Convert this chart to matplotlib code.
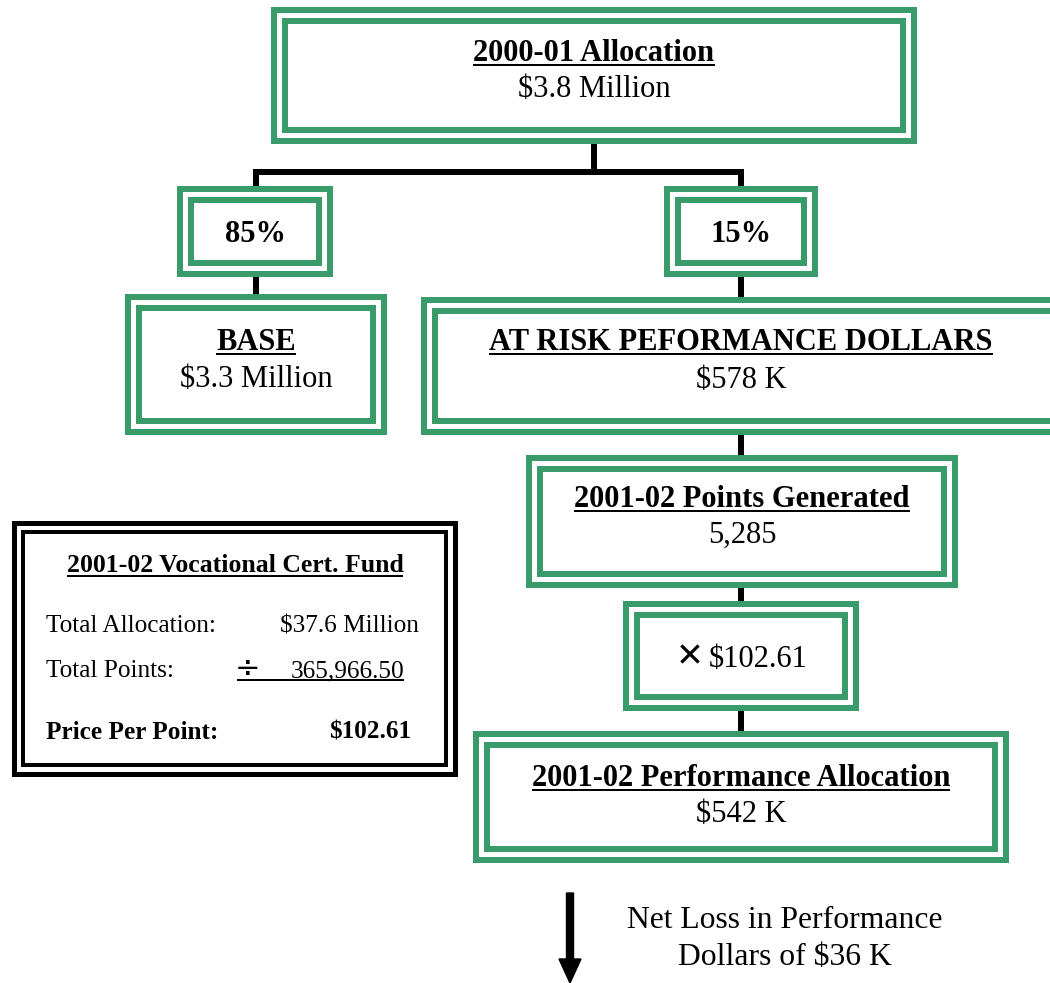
import matplotlib
matplotlib.use('Agg')
import matplotlib.pyplot as plt
from matplotlib.patches import Rectangle, Polygon, FancyArrow

plt.rcParams['text.parse_math'] = False
SERIF = ['Liberation Serif', 'DejaVu Serif']
GREEN = '#3A9B6A'

# chart text
box_titles = ["2000-01 Allocation", "85%", "15%", "BASE",
              "AT RISK PEFORMANCE DOLLARS", "2001-02 Points Generated",
              "", "2001-02 Performance Allocation"]
box_values = ["$3.8 Million", "", "", "$3.3 Million", "$578 K", "5,285",
              "$102.61", "$542 K"]
fund_title = "2001-02 Vocational Cert. Fund"
fund_labels = ["Total Allocation:", "Total Points:", "Price Per Point:"]
fund_values = ["$37.6 Million", "365,966.50", "$102.61"]
note_lines = ["Net Loss in Performance", "Dollars of $36 K"]

# layout (pixel coords): outer box x0, y0, x1, y1
box_pos = [(274, 10, 914, 141), (180, 189, 330, 274), (667, 189, 815, 274),
           (128, 297, 384, 432), (424, 300, 1066, 432), (529, 458, 955, 585),
           (626, 604, 856, 708), (476, 734, 1006, 860)]
title_base = [61, 242, 242, 350, 350, 507, 0, 786]
value_base = [97, 0, 0, 387, 388, 543, 667, 822]


def px(v):
    return v * 0.72


def main():
    fig = plt.figure(figsize=(10.5, 9.83), dpi=100)
    ax = fig.add_axes([0, 0, 1, 1])
    ax.set_xlim(0, 1050)
    ax.set_ylim(983, 0)
    ax.axis('off')
    renderer = fig.canvas.get_renderer()
    inv = ax.transData.inverted()

    def underline(t, y, lw=2):
        bb = t.get_window_extent(renderer)
        (xa, _), (xb, _) = inv.transform([[bb.x0, bb.y0], [bb.x1, bb.y1]])
        ax.plot([xa, xb], [y, y], color='black', lw=px(lw),
                solid_capstyle='butt', zorder=4)

    def frame(x0, y0, x1, y1, color, lw):
        # start mid left edge so a clipped path has no visible break
        ym = (y0 + y1) / 2
        pts = [(x0, ym), (x0, y0), (x1, y0), (x1, y1), (x0, y1)]
        ax.add_patch(Polygon(pts, closed=True, fill=False, ec=color,
                             lw=px(lw), joinstyle='miter', zorder=3))

    def double_box(x0, y0, x1, y1, color, lw_out, lw_in, gap):
        frame(x0, y0, x1, y1, color, lw_out)
        frame(x0 + gap, y0 + gap, x1 - gap, y1 - gap, color, lw_in)

    # connectors
    conn = [((594, 141), (594, 172)), ((253, 172), (744, 172)),
            ((256, 172), (256, 189)), ((741, 172), (741, 189)),
            ((256, 274), (256, 297)), ((741, 274), (741, 300)),
            ((741, 432), (741, 458)), ((741, 585), (741, 604)),
            ((741, 708), (741, 734))]
    for (xa, ya), (xb, yb) in conn:
        ax.plot([xa, xb], [ya, yb], color='black', lw=px(6),
                solid_capstyle='butt', zorder=1)

    for i, (x0, y0, x1, y1) in enumerate(box_pos):
        ax.add_patch(Rectangle((x0, y0), x1 - x0, y1 - y0, fc='white',
                               ec='none', zorder=2))
        double_box(x0, y0, x1, y1, GREEN, 6, 6, 11)
        cx = (x0 + x1) / 2 if i != 4 else 741
        if box_titles[i]:
            t = ax.text(cx, title_base[i], box_titles[i], ha='center',
                        va='baseline', family=SERIF, weight='bold',
                        fontsize=22, zorder=4)
            if '%' not in box_titles[i]:
                underline(t, title_base[i] + 4)
        if i == 6:
            ax.text(690, value_base[i] - 1, "\u2715", ha='center',
                    va='baseline', family='DejaVu Sans', fontsize=24,
                    weight='bold', zorder=4)
            ax.text(709, value_base[i], box_values[i], ha='left',
                    va='baseline', family=SERIF, fontsize=22, zorder=4)
        elif box_values[i]:
            ax.text(cx, value_base[i], box_values[i], ha='center',
                    va='baseline', family=SERIF, fontsize=22, zorder=4)

    # fund box
    double_box(14, 523, 455, 774, 'black', 5, 4, 9)
    t = ax.text(235, 572, fund_title, ha='center', va='baseline', family=SERIF,
                weight='bold', fontsize=18.5)
    underline(t, 576)
    rows = [632, 677, 739]
    for k, (lab, val) in enumerate(zip(fund_labels, fund_values)):
        bold = 'bold' if k == 2 else 'normal'
        ax.text(46, rows[k], lab, ha='left', va='baseline', family=SERIF,
                fontsize=18.2, weight=bold)
        xr = [419, 404, 411][k]
        ax.text(xr, rows[k], val, ha='right', va='baseline', family=SERIF,
                fontsize=18.2, weight=bold)
    ax.text(248, 677, "\u00f7", ha='center', va='baseline', family='DejaVu Sans',
            fontsize=22)
    ax.plot([237, 404], [680, 680], color='black', lw=px(2), solid_capstyle='butt')

    # arrow and note
    ax.add_patch(FancyArrow(570, 893, 0, 90, width=7, head_width=22,
                            head_length=24, length_includes_head=True,
                            color='black', clip_on=False))
    for j, line in enumerate(note_lines):
        ax.text(785, [928, 965][j], line, ha='center', va='baseline',
                family=SERIF, fontsize=22.8)

    fig.savefig('out.png', dpi=100)


if __name__ == "__main__":
    main()
